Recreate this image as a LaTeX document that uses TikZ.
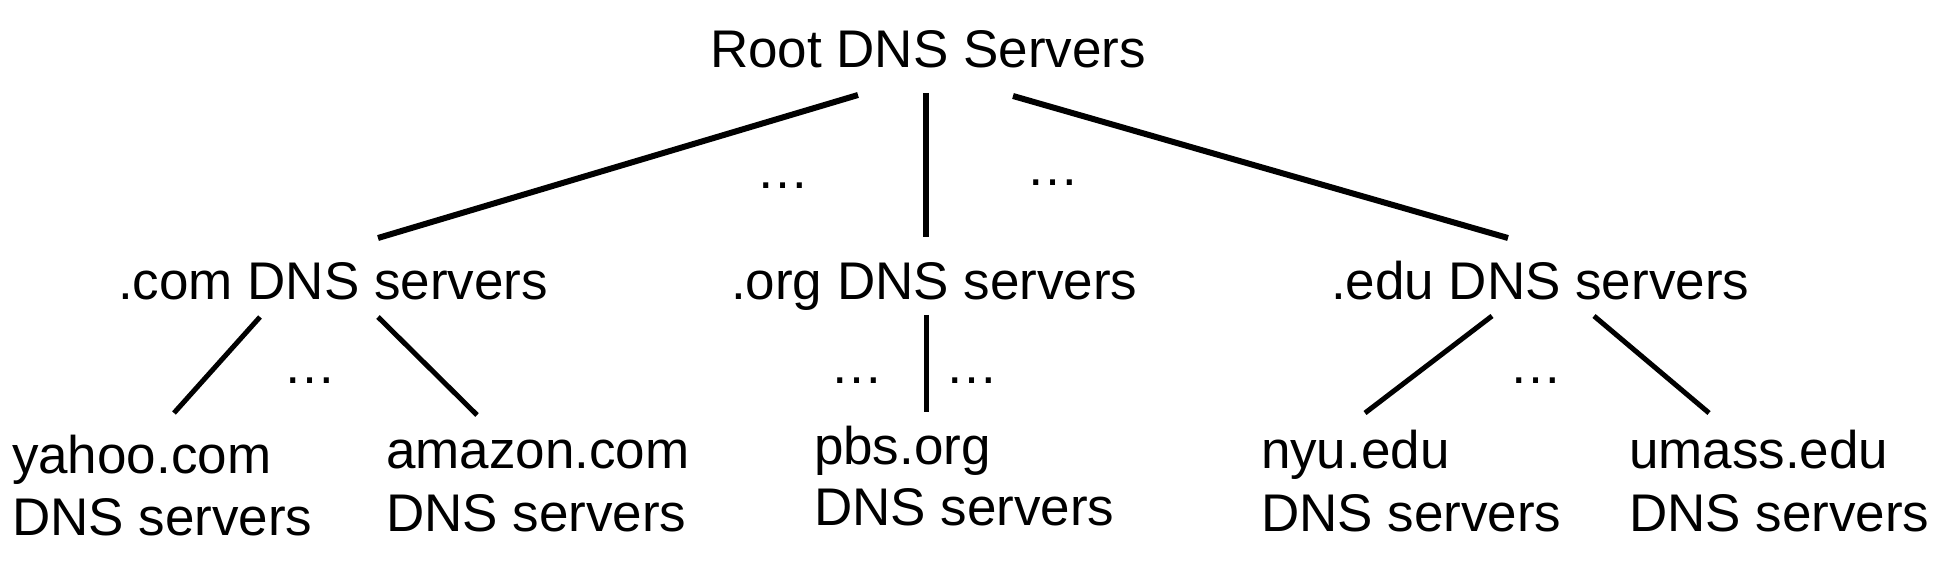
\documentclass[tikz,border=0pt]{standalone}
\usepackage{fontspec}
\setmainfont{Liberation Sans}
\begin{document}
\begin{tikzpicture}[x=0.5pt,y=-0.5pt,
  lbl/.style={inner sep=0pt,outer sep=0pt,anchor=base west,
    font=\fontsize{26.5pt}{32pt}\selectfont},
  dots/.style={inner sep=0pt,anchor=base,font=\fontsize{26.5pt}{32pt}\selectfont},
  toplink/.style={line width=3pt},
  link/.style={line width=2.5pt}]
\useasboundingbox (0,0) rectangle (1942,566);
% nodes
\node[lbl] (root) at (710,68) {Root DNS Servers};
\node[lbl] (com) at (118,300) {.com DNS servers};
\node[lbl] (org) at (731,300) {.org DNS servers};
\node[lbl] (edu) at (1331,300) {.edu DNS servers};
\node[lbl] (yahoo) at (12,473) {yahoo.com};
\node[lbl] (yahooS) at (12,535) {DNS servers};
\node[lbl] (amazon) at (386,468) {amazon.com};
\node[lbl] (amazonS) at (386,531) {DNS servers};
\node[lbl] (pbs) at (814,464) {pbs.org};
\node[lbl] (pbsS) at (814,525) {DNS servers};
\node[lbl] (nyu) at (1261,468) {nyu.edu};
\node[lbl] (nyuS) at (1261,531) {DNS servers};
\node[lbl] (umass) at (1629,468) {umass.edu};
\node[lbl] (umassS) at (1629,531) {DNS servers};
% ellipses
\node[dots] (d1) at (783,189) {…};
\node[dots] (d2) at (1053,186) {…};
\node[dots] (d3) at (310,384) {…};
\node[dots] (d4) at (857,384) {…};
\node[dots] (d5) at (972,384) {…};
\node[dots] (d6) at (1536,384) {…};
% connector ends
\coordinate (rA) at (858,95);  \coordinate (comT) at (378,238);
\coordinate (rB) at (926,93);  \coordinate (orgT) at (926,237);
\coordinate (rC) at (1013,96); \coordinate (eduT) at (1508,238);
\coordinate (comA) at (260,317); \coordinate (yahooT) at (174,413);
\coordinate (comB) at (378,317); \coordinate (amazonT) at (477,415);
\coordinate (orgB) at (926,315); \coordinate (pbsT) at (926,412);
\coordinate (eduA) at (1492,316); \coordinate (nyuT) at (1365,413);
\coordinate (eduB) at (1594,316); \coordinate (umassT) at (1709,413);
% connectors
\draw[toplink] (rA) -- (comT);
\draw[toplink] (rB) -- (orgT);
\draw[toplink] (rC) -- (eduT);
\draw[link] (comA) -- (yahooT);
\draw[link] (comB) -- (amazonT);
\draw[link] (orgB) -- (pbsT);
\draw[link] (eduA) -- (nyuT);
\draw[link] (eduB) -- (umassT);
\end{tikzpicture}
\end{document}
